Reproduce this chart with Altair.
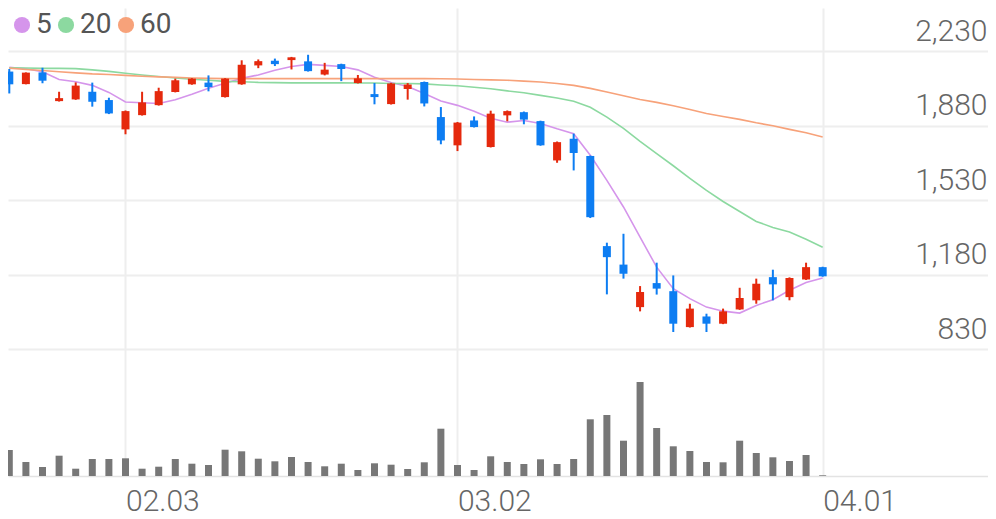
import altair as alt
import pandas as pd

# ---- data ----
idx = list(range(50))
opens = [2135, 2076, 2131, 1996, 2004, 2040, 2001, 1863, 1930, 1977,
         2039, 2075, 2083, 2015, 2075, 2164, 2186, 2189, 2183, 2121,
         2170, 2081, 2029, 1982, 2053, 2086, 1921, 1788, 1905, 1780,
         1929, 1944, 1902, 1717, 1819, 1738, 1314, 1227, 1027, 1140,
         1102, 933, 983, 949, 1016, 1059, 1168, 1074, 1157, 1215]
highs = [2147, 2131, 2153, 2040, 2084, 2083, 2012, 1952, 2040, 2059,
         2102, 2104, 2117, 2104, 2188, 2192, 2196, 2204, 2214, 2176,
         2172, 2119, 2081, 2082, 2081, 2088, 1968, 1898, 1924, 1951,
         1952, 1947, 1904, 1806, 1843, 1740, 1330, 1372, 1126, 1236,
         1176, 1043, 996, 1020, 1118, 1161, 1203, 1167, 1236, 1217]
lows = [2032, 2075, 2080, 1994, 2002, 1970, 1935, 1840, 1928, 1975,
        2037, 2073, 2042, 2013, 2073, 2151, 2161, 2145, 2135, 2117,
        2090, 2079, 1981, 1980, 2003, 1971, 1793, 1761, 1872, 1778,
        1901, 1887, 1786, 1706, 1670, 1446, 1087, 1161, 1007, 1086,
        910, 931, 910, 947, 1014, 1043, 1059, 1059, 1155, 1170]
closes = [2075, 2130, 2092, 2010, 2069, 1993, 1938, 1949, 1990, 2043,
          2094, 2102, 2062, 2102, 2167, 2184, 2170, 2202, 2137, 2144,
          2147, 2103, 2015, 2079, 2074, 1985, 1811, 1895, 1874, 1937,
          1949, 1909, 1788, 1803, 1752, 1450, 1262, 1184, 1098, 1114,
          949, 1020, 949, 1007, 1070, 1137, 1134, 1164, 1215, 1172]
volumes = [260, 140, 90, 203, 73, 170, 170, 177, 73, 93,
           170, 123, 110, 263, 247, 173, 147, 190, 140, 97,
           123, 60, 127, 113, 70, 137, 473, 110, 60, 197,
           140, 120, 167, 120, 170, 567, 610, 353, 940, 480,
           297, 250, 140, 137, 353, 230, 187, 150, 210, 7]
ma5 = [2155, 2148, 2134, 2098, 2087, 2070, 2037, 1992, 1988, 1985,
       2002, 2028, 2056, 2080, 2103, 2119, 2141, 2159, 2169, 2164,
       2159, 2143, 2108, 2084, 2065, 2032, 1997, 1976, 1948, 1915,
       1897, 1905, 1891, 1866, 1843, 1741, 1623, 1498, 1356, 1215,
       1114, 1067, 1027, 1008, 999, 1035, 1062, 1106, 1143, 1164]
ma20 = [2153, 2152, 2150, 2150, 2149, 2143, 2136, 2127, 2119, 2112,
        2105, 2099, 2094, 2089, 2087, 2084, 2083, 2082, 2082, 2082,
        2082, 2081, 2081, 2079, 2079, 2077, 2072, 2068, 2061, 2054,
        2044, 2035, 2023, 2011, 1995, 1967, 1921, 1868, 1807, 1749,
        1692, 1633, 1576, 1524, 1477, 1430, 1402, 1380, 1346, 1309]
ma60 = [2151, 2145, 2140, 2134, 2129, 2124, 2121, 2117, 2113, 2110,
        2108, 2105, 2103, 2102, 2102, 2102, 2102, 2102, 2102, 2102,
        2102, 2102, 2102, 2102, 2102, 2102, 2101, 2100, 2098, 2096,
        2094, 2090, 2086, 2079, 2070, 2056, 2039, 2021, 2004, 1990,
        1974, 1957, 1938, 1924, 1910, 1894, 1880, 1863, 1847, 1827]

tick_idx = [7, 27, 49]
tick_labels = ["02.03", "03.02", "04.01"]
price_ticks = [830, 1180, 1530, 1880, 2230]
ma_names = ["5", "20", "60"]
ma_colors = ["#d595eb", "#8cd9a0", "#f7a27a"]
UP = "#e5290d"
DOWN = "#0d7df2"
VOL_COLOR = "#777777"
GRID = "#eeeeee"
TEXT = "#666666"

candles = pd.DataFrame({"i": idx, "open": opens, "high": highs, "low": lows,
                        "close": closes, "vol": volumes})
ma = pd.DataFrame({
    "i": idx * 3,
    "ma": [ma_names[0]] * 50 + [ma_names[1]] * 50 + [ma_names[2]] * 50,
    "value": ma5 + ma20 + ma60,
})

W = 980
H1 = 341
H2 = 127
XD = [-0.078, 58.96]

label_expr = " : ".join(
    f"datum.value == {v} ? '{t}'" for v, t in zip(tick_idx, tick_labels)
) + " : ''"

xs = alt.Scale(domain=XD, nice=False, zero=False, padding=0)
ys = alt.Scale(domain=[830, 2434], nice=False, zero=False, padding=0)

x_axis_price = alt.Axis(
    values=tick_idx, labels=False, ticks=False, tickSize=0, domain=False,
    grid=True, gridColor=GRID, gridWidth=2, title=None,
    minExtent=0, maxExtent=0)

y_axis = alt.Axis(
    orient="right", values=price_ticks,
    labelExpr="format(datum.value, ',')", labelAlign="right",
    labelBaseline="alphabetic", labelOffset=-11, labelPadding=-1,
    ticks=False, tickSize=0, domain=False, grid=True, gridColor=GRID,
    gridWidth=2, labelFontSize=30, labelColor=TEXT, labelFont="Roboto",
    labelFontWeight=300, title=None, minExtent=0, maxExtent=0,
    labelFlush=False)

ma_scale = alt.Scale(domain=ma_names, range=ma_colors)

X = alt.X("i:Q", scale=xs, axis=x_axis_price)

legend_pts = alt.Chart(ma).transform_filter("false").mark_circle(
    size=200, opacity=1).encode(
    x=X,
    y=alt.Y("value:Q", scale=ys, axis=y_axis),
    color=alt.Color("ma:N", scale=ma_scale, legend=alt.Legend(
        orient="none", legendX=0, legendY=3, direction="horizontal",
        title=None, symbolType="circle", symbolSize=260,
        symbolStrokeWidth=0, symbolOpacity=1, labelFontSize=28,
        labelColor="#555555", labelFont="Roboto", labelOffset=0,
        columnPadding=0, padding=0)),
)

lines = alt.Chart(ma).mark_line(strokeWidth=1.6, clip=True).encode(
    x=X,
    y=alt.Y("value:Q", scale=ys, axis=y_axis),
    color=alt.Color("ma:N", scale=ma_scale, legend=None),
)

dir_color = alt.when("datum.close >= datum.open").then(
    alt.value(UP)).otherwise(alt.value(DOWN))

wicks = alt.Chart(candles).mark_rule(strokeWidth=2, clip=True).encode(
    x=X,
    y=alt.Y("low:Q", scale=ys, axis=y_axis),
    y2="high:Q",
    color=dir_color,
)

bodies = alt.Chart(candles).mark_bar(size=8, clip=True).encode(
    x=X,
    y=alt.Y("open:Q", scale=ys, axis=y_axis),
    y2="close:Q",
    color=dir_color,
)

price = alt.layer(legend_pts, lines, wicks, bodies).properties(
    width=W, height=H1)

volume = alt.Chart(candles).mark_bar(size=7, color=VOL_COLOR, clip=True).encode(
    x=alt.X("i:Q", scale=xs, axis=alt.Axis(
        values=tick_idx, labelExpr=label_expr, labelAlign="left",
        labelBaseline="alphabetic", labelPadding=34, ticks=False,
        tickSize=0, domain=True, domainColor="#e3e3e3", domainWidth=1.5,
        grid=True, gridColor=GRID, gridWidth=2, labelFontSize=30,
        labelColor=TEXT, labelFont="Roboto", labelFontWeight=300,
        title=None, labelFlush=False)),
    y=alt.Y("vol:Q", scale=alt.Scale(domain=[0, 1270], nice=False, padding=0),
            axis=None),
).properties(width=W, height=H2)

chart = alt.vconcat(price, volume, spacing=0, bounds="flush").resolve_scale(
    x="independent"
).properties(padding=0).configure_view(stroke=None)

chart.save("out.html", embed_options={"renderer": "svg", "actions": False})
